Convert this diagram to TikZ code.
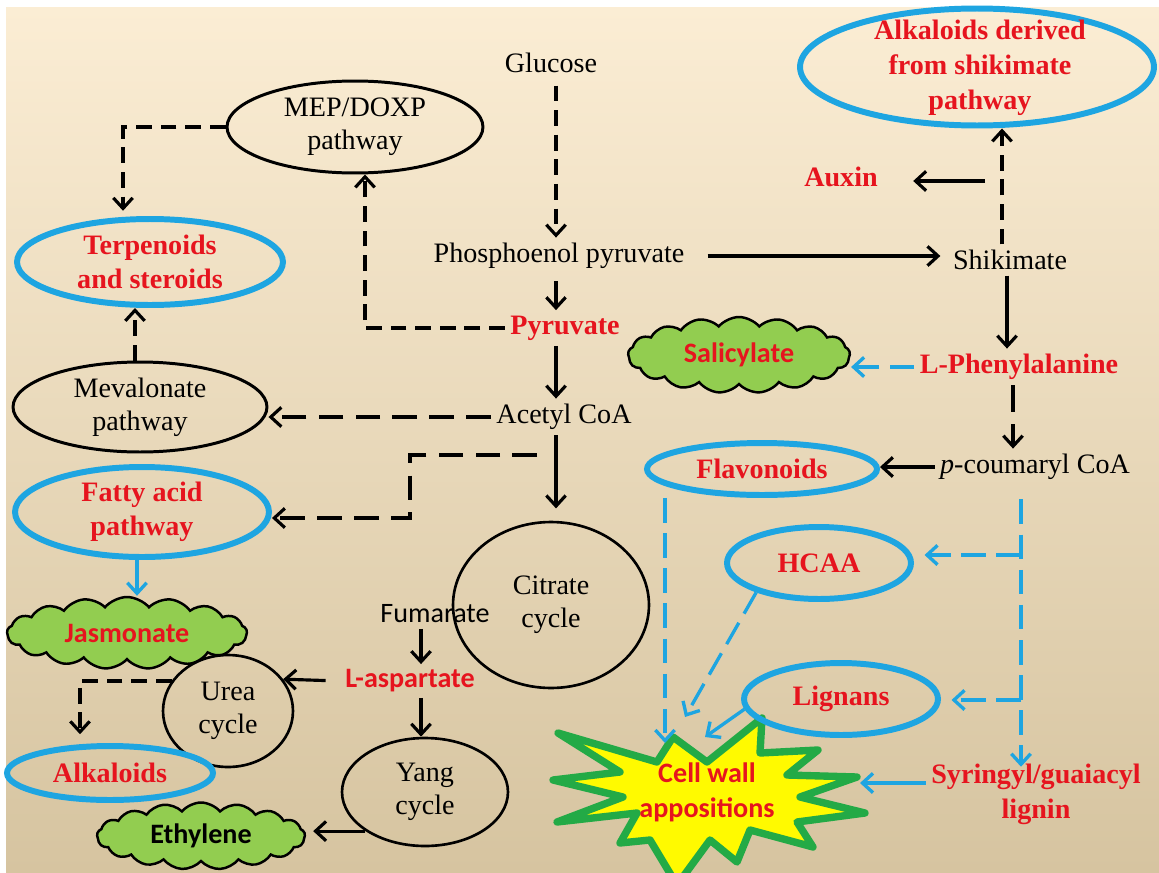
\documentclass[tikz,border=0pt]{standalone}
\usepackage{fontspec}
\setmainfont{Liberation Serif}
\newfontfamily\calibfont{Carlito}
\usetikzlibrary{shapes,shapes.geometric,shapes.symbols}
\usetikzlibrary{arrows.meta}

\definecolor{bgtop}{RGB}{251,237,212}
\definecolor{bgbot}{RGB}{214,196,160}
\definecolor{txtred}{RGB}{230,20,30}
\definecolor{rimblue}{RGB}{30,165,225}
\definecolor{puffgreen}{RGB}{146,205,80}
\definecolor{rimgreen}{RGB}{35,170,70}
\definecolor{wallyellow}{RGB}{255,250,0}

\tikzset{
    every node/.style={font=\fontsize{16}{19}\selectfont,align=center,inner sep=3pt},
    redtxt/.style={text=txtred,font=\fontsize{16}{19.5}\selectfont\bfseries},
    sanstxt/.style={font=\fontsize{16}{19}\selectfont\calibfont},
    redsans/.style={text=txtred,font=\fontsize{16}{20}\selectfont\calibfont\bfseries},
    blackoval/.style={ellipse,draw=black,line width=1.7pt,inner sep=0pt},
    blueoval/.style={ellipse,draw=rimblue,line width=3.4pt,inner sep=0pt,redtxt},
    cyc/.style={ellipse,draw=black,line width=1.5pt,inner sep=0pt},
    puff/.style={cloud,cloud puffs=17,cloud puff arc=100,cloud ignores aspect,draw=black,line width=1.4pt,
        fill=puffgreen,inner sep=0pt,font=\fontsize{16}{19}\selectfont\calibfont\bfseries},
    arr/.style={-{Straight Barb[length=6pt,width=11pt]},line width=1.8pt},
    darr/.style={arr,dash pattern=on 9pt off 5pt},
    ldarr/.style={arr,dash pattern=on 14pt off 7pt},
    barr/.style={-{Straight Barb[length=6pt,width=11pt]},line width=1.9pt,draw=rimblue},
    bdarr/.style={barr,dash pattern=on 14pt off 6pt},
}

\begin{document}
\begin{tikzpicture}[x=0.02cm,y=-0.02cm]
        % Background
        \useasboundingbox (0,0) rectangle (1159,872);
        \fill [white] (0,0) rectangle (1159,872);
        \shade [top color=bgtop,bottom color=bgbot] (6,7) rectangle (1159,872);

        % Centre column
        \coordinate (spine) at (556,0);
        \node (glu) at (551,63) {Glucose};
        \node (pep) at (559,256) {Phosphoenol pyruvate};
        \node [redtxt] (pyr) at (565,328) {Pyruvate};
        \node (acoa) at (564,417) {Acetyl CoA};
        \node [cyc,minimum width=3.92cm,minimum height=3.32cm] (cit) at (551,605) {Citrate\\cycle};
        \node [sanstxt] (fum) at (435,614) {Fumarate};
        \node [redsans] (lasp) at (410,681) {L-aspartate};
        \node [cyc,minimum width=2.6cm,minimum height=2.24cm] (urea) at (228,711) {Urea\\cycle};
        \node [cyc,minimum width=3.32cm,minimum height=2.16cm] (yang) at (425,792) {Yang\\cycle};

        % Left column
        \node [blackoval,minimum width=5.12cm,minimum height=1.84cm] (mep) at (355,127) {MEP/DOXP\\pathway};
        \node [blueoval,minimum width=5.32cm,minimum height=1.72cm] (terp) at (150,262) {Terpenoids\\and steroids};
        \node [blackoval,minimum width=5.08cm,minimum height=1.8cm] (mev) at (140,407) {Mevalonate\\pathway};
        \node [blueoval,minimum width=5.08cm,minimum height=1.8cm] (fatty) at (142,512) {Fatty acid\\pathway};
        \node [puff,text=txtred,minimum width=4.8cm,minimum height=1.44cm] (jas) at (127,633) {Jasmonate};
        \node [blueoval,minimum width=4.12cm,minimum height=1.08cm] (alk) at (110,773) {Alkaloids};
        \node [puff,minimum width=4.16cm,minimum height=1.34cm] (eth) at (201,836) {Ethylene};

        % Cell wall star
        \draw [line width=4.2pt,draw=rimgreen,fill=wallyellow,line join=round]
            (553,780) -- (620,772) -- (558,733) -- (657,762) -- (673,737) -- (707,762)
            -- (762,718) -- (760,753) -- (818,750) -- (787,775) -- (857,777) -- (800,797)
            -- (865,813) -- (797,822) -- (813,847) -- (750,830) -- (737,862) -- (710,840)
            -- (677,885) -- (650,840) -- (620,843) -- (637,813) -- (557,822) -- (623,797) -- cycle;
        \node [redsans] (cw) at (707,792) {Cell wall\\appositions};

        % Right column
        \node [blueoval,minimum width=7.08cm,minimum height=2.34cm] (alkshik) at (977,67) {};
        \node [redtxt,font=\fontsize{16}{20}\selectfont\bfseries] (alkshiktxt) at (980,68)
            {Alkaloids derived\\from shikimate\\pathway};
        \node [redtxt] (aux) at (841,177) {Auxin};
        \node (shik) at (1010,260) {Shikimate};
        \node [redtxt] (lphe) at (1019,367) {L-Phenylalanine};
        \node [puff,text=txtred,minimum width=4.44cm,minimum height=1.52cm] (sal) at (739,355) {Salicylate};
        \node (pcoum) at (1035,467) {\textit{p}-coumaryl CoA};
        \node [blueoval,minimum width=4.6cm,minimum height=1.04cm] (flav) at (762,469) {Flavonoids};
        \node [blueoval,minimum width=3.68cm,minimum height=1.44cm] (hcaa) at (819,563) {HCAA};
        \node [blueoval,minimum width=3.88cm,minimum height=1.44cm] (lig) at (841,699) {Lignans};
        \node [redtxt,font=\fontsize{16}{20}\selectfont\bfseries] (syr) at (1036,794)
            {Syringyl/guaiacyl\\lignin};

        % Bends and loose ends
        \coordinate (shikx) at (1002,0);
        \coordinate (auxfork) at (985,181);
        \coordinate (phex) at (1007,0);
        \coordinate (phex2) at (1013,0);
        \coordinate (ligx) at (1021,0);
        \coordinate (hfork) at (1021,555);
        \coordinate (lfork) at (1021,700);
        \coordinate (flavdrop) at (665,743);
        \coordinate (hcaadrop) at (685,717);
        \coordinate (ligdrop) at (705,737);
        \coordinate (syrdrop) at (860,783);
        \coordinate (mepx) at (365,0);
        \coordinate (terpx) at (123,0);
        \coordinate (mevx) at (135,0);
        \coordinate (fafork) at (537,455);
        \coordinate (fabend) at (410,518);
        \coordinate (jasx) at (137,0);
        \coordinate (aspx) at (421,0);
        \coordinate (alkx) at (80,0);

        % Main route
        \draw [darr,shorten <=4pt] (glu.south -| spine) -- (pep.north -| spine);
        \draw [arr,shorten <=4pt] (pep.south -| spine) -- (pyr.north -| spine);
        \draw [arr] (pyr.south -| spine) -- (acoa.north -| spine);
        \draw [arr,shorten >=7pt] (acoa.south -| spine) -- (cit.north -| spine);
        \draw [arr,shorten <=10pt,shorten >=4pt] (pep.east) -- (pep.east -| shik.west);

        % Shikimate side
        \draw [darr] (shik.north -| shikx) -- (alkshik.south -| shikx);
        \draw [arr,shorten >=17pt] (auxfork) -- (auxfork -| aux.east);
        \draw [arr] (shik.south -| phex) -- (lphe.north -| phex);
        \draw [arr,dash pattern=on 15pt off 7pt] (lphe.south -| phex2) -- (pcoum.north -| phex2);
        \draw [bdarr] (lphe.west) -- (lphe.west -| sal.east);
        \draw [arr] (pcoum.west) -- (pcoum.west -| flav.east);
        \draw [bdarr,shorten <=8pt,shorten >=-5pt] (pcoum.south -| ligx) -- (syr.north -| ligx);
        \draw [bdarr,shorten >=6pt] (hfork) -- (hfork -| hcaa.east);
        \draw [bdarr,shorten >=6pt] (lfork) -- (lfork -| lig.east);
        \draw [bdarr] (flav.south -| flavdrop) -- (flavdrop);
        \draw [bdarr] (hcaa.205) -- (hcaadrop);
        \draw [barr] (lig.186) -- (ligdrop);
        \draw [barr] (syr.west |- syrdrop) -- (syrdrop);

        % Isoprenoid and fatty acid side
        \draw [darr] (pyr.west) -| (mep.south -| mepx);
        \draw [darr,shorten >=3pt] (mep.west) -| (terp.north -| terpx);
        \draw [darr] (mev.north -| mevx) -- (terp.south -| mevx);
        \draw [ldarr] (acoa.west) -- (acoa.west -| mev.east);
        \draw [ldarr] (fafork) -| (fabend) -- (fabend -| fatty.east);
        \draw [barr] (fatty.south -| jasx) -- (jas.north -| jasx);

        % Aspartate side
        \draw [arr] (fum.south -| aspx) -- (lasp.north -| aspx);
        \draw [arr,shorten <=8pt] (lasp.west) -- (urea.30);
        \draw [arr] (lasp.south -| aspx) -- (yang.north -| aspx);
        \draw [arr,shorten >=4pt] (yang.south west) -- (yang.south west -| eth.east);
        \draw [darr,shorten >=5pt] (urea.152) -| (alk.north -| alkx);
    \end{tikzpicture}
\end{document}
